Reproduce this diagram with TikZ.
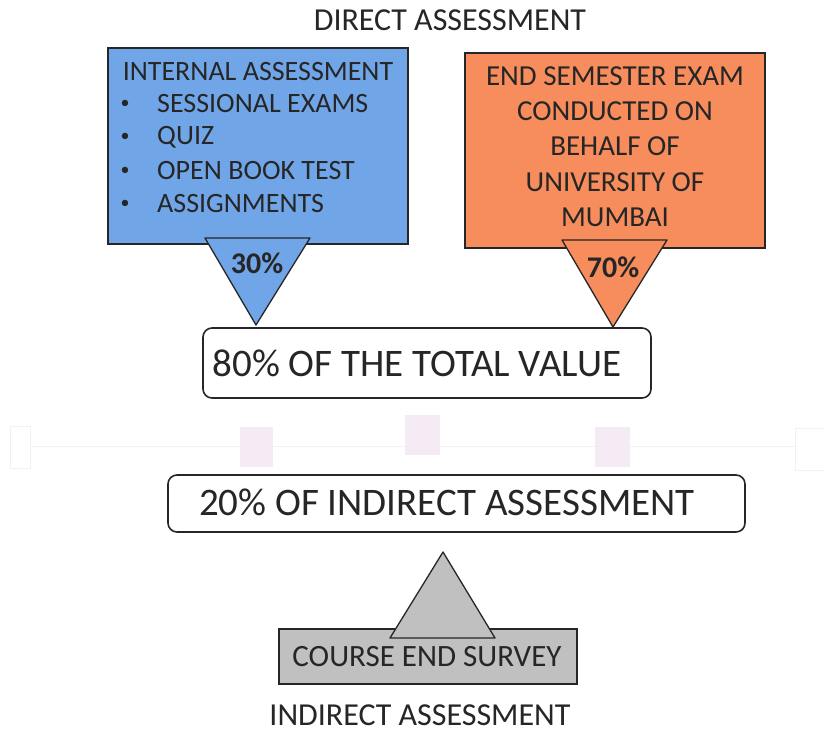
\documentclass[tikz,border=0pt]{standalone}
\usepackage{fontspec}
\setmainfont{Carlito}
\begin{document}
\begin{tikzpicture}[x=1pt,y=-1pt,
  txt/.style={inner sep=0pt,text=black!85},
  fz/.style={font=\fontsize{#1}{#1}\selectfont},
  fzb/.style={font=\fontsize{#1}{#1}\selectfont\bfseries},
  boxline/.style={draw=black!85,line width=1.3pt},
  faint/.style={draw=violet!7,line width=1pt},
  faintfill/.style={fill=violet!8,draw=none},
  valbox/.style={draw=black!85,line width=1.6pt,rounded corners=9pt,fill=white}
]
\definecolor{iablue}{RGB}{112,166,232}
\definecolor{esorange}{RGB}{247,140,92}
\definecolor{cegray}{RGB}{192,192,192}
\useasboundingbox (0,0) rectangle (824,733);

% faint timeline remnant
\coordinate (tlA) at (30,446);
\coordinate (tlB) at (795,446);
\draw[faint] (tlA) -- (tlB);
\draw[faint] (10,426) rectangle (30,468);
\draw[faint] (795,428) rectangle (824,470);
\fill[faintfill] (240,427) rectangle (273,467);
\fill[faintfill] (405,415) rectangle (440,455);
\fill[faintfill] (595,427) rectangle (630,467);

% title
\node[txt,fz=32] (title) at (450,20) {DIRECT ASSESSMENT};

% blue box
\draw[boxline,fill=iablue] (108,48) rectangle (408,244);
\node[txt,fz=28] (ia) at (258,72) {INTERNAL ASSESSMENT};
\foreach \y/\t/\n in {104/SESSIONAL EXAMS/a,137/QUIZ/b,171/OPEN BOOK TEST/c,204/ASSIGNMENTS/d}{
  \node[txt,fz=18] (bul\n) at (125,\y) {\textbullet};
  \node[txt,fz=28,anchor=west] (it\n) at (157,\y) {\t};
}
\draw[boxline,fill=iablue,line join=round] (205,238) -- (310,238) -- (256,325) -- cycle;
\node[txt,fzb=30] (p30) at (257,263) {30\%};

% orange box
\draw[boxline,fill=esorange] (465,53) rectangle (765,248);
\foreach \y/\t/\n in {76/END SEMESTER EXAM/a,111/CONDUCTED ON/b,146/BEHALF OF/c,182/UNIVERSITY OF/d,217/MUMBAI/e}{
  \node[txt,fz=29] (es\n) at (615,\y) {\t};
}
\draw[boxline,fill=esorange,line join=round] (562,240) -- (667,240) -- (613,327) -- cycle;
\node[txt,fzb=30] (p70) at (613,267) {70\%};

% 80% box
\draw[valbox] (203,328) rectangle (651,398);
\node[txt,fz=39] (v80) at (417,363) {80\% OF THE TOTAL VALUE};

% 20% box
\draw[valbox] (168,475) rectangle (745,532);
\node[txt,fz=39] (v20) at (447,502) {20\% OF INDIRECT ASSESSMENT};

% course end survey
\draw[boxline,fill=cegray] (279,629) rectangle (577,684);
\node[txt,fz=31] (ces) at (427,657) {COURSE END SURVEY};
\draw[boxline,fill=cegray,line join=round] (390,638) -- (495,638) -- (443,552) -- cycle;

\node[txt,fz=32] (ind) at (420,715) {INDIRECT ASSESSMENT};
\end{tikzpicture}
\end{document}
